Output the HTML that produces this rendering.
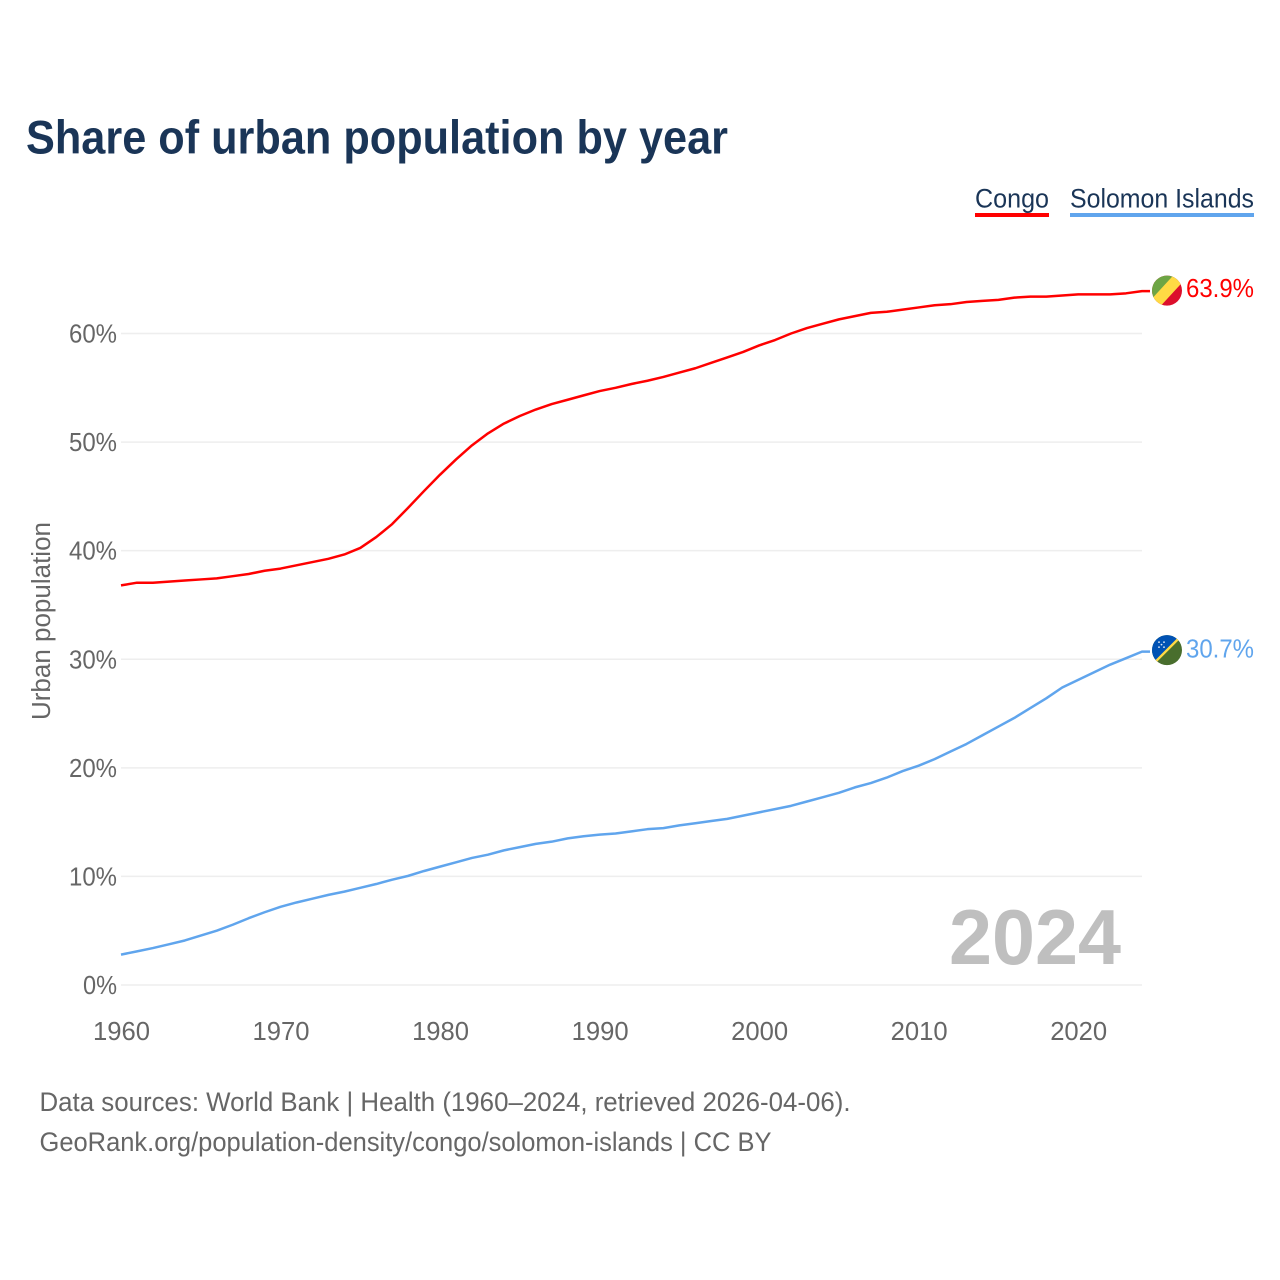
<!DOCTYPE html>
<html lang="en">
<head>
<meta charset="utf-8">
<title>Share of urban population by year</title>
<style>
  html, body { margin: 0; padding: 0; background: #ffffff; }
  svg { display: block; font-family: "Liberation Sans", sans-serif; }
</style>
</head>
<body>
<svg id="chart" width="1280" height="1280" viewBox="0 0 1280 1280" xmlns="http://www.w3.org/2000/svg">
  <defs>
    <clipPath id="flag-clip"><circle cx="0" cy="0" r="15"></circle></clipPath>
  </defs>
  <rect width="1280" height="1280" fill="#ffffff"></rect>

  <text x="26" y="153.5" font-size="47" font-weight="700" fill="#1a3557" textLength="702" lengthAdjust="spacingAndGlyphs">Share of urban population by year</text>

  <g>
    <text x="975" y="207.5" font-size="26.5" fill="#1a3557" textLength="74" lengthAdjust="spacingAndGlyphs">Congo</text>
    <rect x="975" y="213" width="74" height="4" fill="#ff0000"></rect>
  </g>
  <g>
    <text x="1070" y="207.5" font-size="26.5" fill="#1a3557" textLength="184" lengthAdjust="spacingAndGlyphs">Solomon Islands</text>
    <rect x="1070" y="213" width="184" height="4" fill="#60a5ed"></rect>
  </g>

  <g id="grid"></g>
  <g id="y-axis"></g>
  <g id="x-axis"></g>

  <text transform="translate(50,621) rotate(-90)" text-anchor="middle" font-size="25.5" fill="#666666" textLength="198" lengthAdjust="spacingAndGlyphs">Urban population</text>

  <text id="year-label" x="1121" y="964" text-anchor="end" font-size="78" font-weight="700" fill="#bfbfbf" textLength="172" lengthAdjust="spacingAndGlyphs">2024</text>

  <g id="series"></g>

  <g id="flag-congo">
    <g clip-path="url(#flag-clip)">
      <rect x="-16" y="-16" width="32" height="32" fill="#dc0f2c"></rect>
      <polygon points="-16,-16 16,-16 -16,16" fill="#6da544"></polygon>
      <polygon points="7,-16 16,-9 -7,16 -16,9" fill="#ffda44"></polygon>
    </g>
  </g>
  <g id="flag-solomon">
    <g clip-path="url(#flag-clip)">
      <rect x="-16" y="-16" width="32" height="32" fill="#496e2d"></rect>
      <polygon points="-16,-16 16,-16 -16,16" fill="#0052b4"></polygon>
      <line x1="-16" y1="16" x2="16" y2="-16" stroke="#ffda44" stroke-width="2.4"></line>
      <g fill="#dfe8f5">
        <circle cx="-8" cy="-8" r="0.9"></circle>
        <circle cx="-3" cy="-8" r="0.9"></circle>
        <circle cx="-5.5" cy="-5.5" r="0.9"></circle>
        <circle cx="-8" cy="-3" r="0.9"></circle>
        <circle cx="-3" cy="-3" r="0.9"></circle>
      </g>
    </g>
  </g>

  <text id="value-congo" x="1254" y="297" text-anchor="end" font-size="26" fill="#ff0000" textLength="68" lengthAdjust="spacingAndGlyphs"></text>
  <text id="value-solomon" x="1254" y="658" text-anchor="end" font-size="26" fill="#60a5ed" textLength="68" lengthAdjust="spacingAndGlyphs"></text>

  <text x="39.5" y="1111" font-size="26.5" fill="#666666" textLength="811" lengthAdjust="spacingAndGlyphs">Data sources: World Bank | Health (1960–2024, retrieved 2026-04-06).</text>
  <text x="39.5" y="1151" font-size="26.5" fill="#666666" textLength="732" lengthAdjust="spacingAndGlyphs">GeoRank.org/population-density/congo/solomon-islands | CC BY</text>
</svg>

<script>
var firstYear = 1960;
var congoValues = [36.8,37.05,37.05,37.15,37.25,37.35,37.45,37.65,37.85,38.15,38.35,38.65,38.95,39.25,39.65,40.25,41.25,42.45,43.95,45.5,47.0,48.4,49.7,50.8,51.7,52.4,53.0,53.5,53.9,54.3,54.7,55.0,55.35,55.65,56.0,56.4,56.8,57.3,57.8,58.3,58.9,59.4,60.0,60.5,60.9,61.3,61.6,61.9,62.0,62.2,62.4,62.6,62.7,62.9,63.0,63.1,63.3,63.4,63.4,63.5,63.6,63.6,63.6,63.7,63.9];
var solomonValues = [2.8,3.1,3.4,3.75,4.1,4.55,5.0,5.55,6.15,6.7,7.2,7.6,7.95,8.3,8.6,8.95,9.3,9.7,10.05,10.5,10.9,11.3,11.7,12.0,12.4,12.7,13.0,13.2,13.5,13.7,13.85,13.95,14.15,14.35,14.45,14.7,14.9,15.1,15.3,15.6,15.9,16.2,16.5,16.9,17.3,17.7,18.2,18.6,19.1,19.7,20.2,20.8,21.5,22.2,23.0,23.8,24.6,25.5,26.4,27.4,28.1,28.8,29.5,30.1,30.7];
var yTicks = [0,10,20,30,40,50,60];
var xTicks = [1960,1970,1980,1990,2000,2010,2020];

var NS = 'http://www.w3.org/2000/svg';
function xScale(year) { return 121 + (year - 1960) * (1142 - 121) / 64; }
function yScale(value) { return 985 - value * (985 - 333.5) / 60; }
function make(tag, parent) {
  var el = document.createElementNS(NS, tag);
  parent.appendChild(el);
  return el;
}

var grid = document.getElementById('grid');
var yAxis = document.getElementById('y-axis');
var xAxis = document.getElementById('x-axis');

yTicks.forEach(function (t) {
  var line = make('line', grid);
  
  
  line.setAttribute('x1', 121);
  line.setAttribute('x2', 1142);
  line.setAttribute('y1', yScale(t));
  line.setAttribute('y2', yScale(t));
  line.setAttribute('stroke', '#eeeeee');
  line.setAttribute('stroke-width', 1.5);

  var label = make('text', yAxis);
  
  
  label.setAttribute('x', 117);
  label.setAttribute('y', yScale(t) + 9);
  label.setAttribute('text-anchor', 'end');
  label.setAttribute('font-size', 25.5);
  label.setAttribute('fill', '#666666');
  label.setAttribute('textLength', t === 0 ? 34 : 48);
  label.setAttribute('lengthAdjust', 'spacingAndGlyphs');
  label.textContent = t + '%';
});

xTicks.forEach(function (t) {
  var label = make('text', xAxis);
  
  
  label.setAttribute('x', xScale(t) + 0.5);
  label.setAttribute('y', 1040);
  label.setAttribute('text-anchor', 'middle');
  label.setAttribute('font-size', 25.5);
  label.setAttribute('fill', '#666666');
  label.setAttribute('textLength', 57);
  label.setAttribute('lengthAdjust', 'spacingAndGlyphs');
  label.textContent = t;
});

function drawSeries(values, color, name) {
  var pts = values.map(function (v, i) {
    return xScale(firstYear + i).toFixed(2) + ',' + yScale(v).toFixed(2);
  });
  var last = values[values.length - 1];
  pts.push('1150,' + yScale(last).toFixed(2));
  var path = make('polyline', document.getElementById('series'));
  
  
  path.setAttribute('points', pts.join(' '));
  path.setAttribute('fill', 'none');
  path.setAttribute('stroke', color);
  path.setAttribute('stroke-width', 2.5);
  path.setAttribute('stroke-linejoin', 'round');
  return last;
}

var congoLast = drawSeries(congoValues, '#ff0000', 'line-congo');
var solomonLast = drawSeries(solomonValues, '#60a5ed', 'line-solomon-islands');

document.getElementById('flag-congo').setAttribute('transform', 'translate(1167,' + (yScale(congoLast) - 0.5) + ')');
document.getElementById('flag-solomon').setAttribute('transform', 'translate(1167,' + (yScale(solomonLast) - 1.5) + ')');

var vc = document.getElementById('value-congo');
vc.textContent = congoLast.toFixed(1) + '%';
vc.setAttribute('y', yScale(congoLast) + 6);
var vs = document.getElementById('value-solomon');
vs.textContent = solomonLast.toFixed(1) + '%';
vs.setAttribute('y', yScale(solomonLast) + 6);
</script>
</body>
</html>
